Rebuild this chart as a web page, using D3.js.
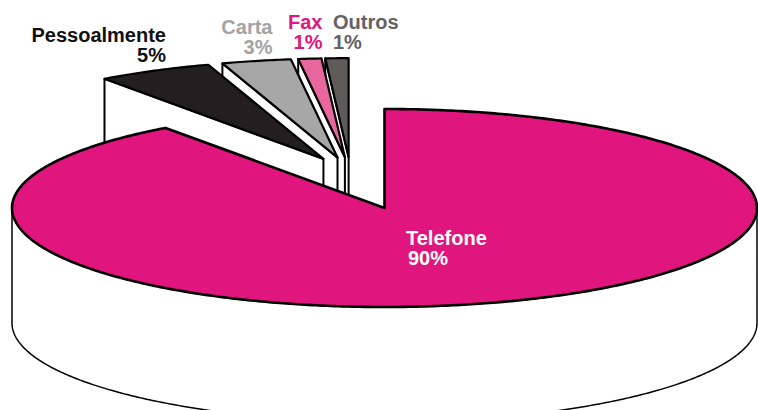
<!DOCTYPE html>
<html>
<head>
<meta charset="utf-8">
<script src="https://cdn.jsdelivr.net/npm/d3@7"></script>
<style>
  html, body { margin: 0; padding: 0; background: #ffffff; }
  svg { display: block; }
  text { font-family: "Liberation Sans", Arial, Helvetica, sans-serif; font-weight: bold; font-size: 20px; }
</style>
</head>
<body>
<svg id="chart" width="758" height="410"></svg>
<script>
// Contact channels and their shares (%)
const categories = ["Telefone", "Pessoalmente", "Carta", "Fax", "Outros"];
const shares = [90, 5, 3, 1, 1];
const percentLabels = ["90%", "5%", "3%", "1%", "1%"];
const pulledOut = [false, true, true, true, true];

// Styling
const sliceColors = ["#E0157D", "#231F20", "#A7A7A7", "#E8679E", "#5F5B5B"];
const labelColors = ["#FFFFFF", "#111111", "#A3A3A3", "#E0157D", "#646262"];

// Label anchors: [x, first baseline, second baseline, anchor, second-line x shift]
const labelLayout = [
  [406, 245, 265, "start", 2],
  [166, 41.5, 61.5, "end", 0],
  [272.5, 34, 54, "end", 0],
  [322.5, 29, 49, "end", 0],
  [333, 29, 49, "start", 0]
];

const svg = d3.select("#chart");

// 3D pie geometry
const cx = 384.5, cy = 208, rx = 372.5, ry = 99, depth = 115;
const explodeFrac = 0.16;      // radial pull of the detached wedges
const groupLift = [-34, -35];  // common shift of the detached group

const xs = d3.scaleLinear().domain([-1, 1]).range([cx - rx, cx + rx]);
const ys = d3.scaleLinear().domain([-1, 1]).range([cy - ry, cy + ry]);

const arcs = d3.pie().sort(null).value(d => d.value)
  .startAngle(0).endAngle(2 * Math.PI)(
    categories.map((c, i) => ({ name: c, value: shares[i], index: i }))
  );

// point on the rim (unit radius r) at angle a (0 = top, clockwise), shifted by offset and drop
function pt(a, r, off, drop) {
  return [xs(r * Math.sin(a)) + off[0], ys(-r * Math.cos(a)) + off[1] + (drop || 0)];
}
function arcPoints(a0, a1, off, drop) {
  const n = Math.max(2, Math.ceil(Math.abs(a1 - a0) / 0.01));
  return d3.range(n + 1).map(k => pt(a0 + (a1 - a0) * k / n, 1, off, drop));
}
const line = d3.line();

function offsetFor(d) {
  if (!pulledOut[d.data.index]) return [0, 0];
  const mid = (d.startAngle + d.endAngle) / 2;
  return [explodeFrac * rx * Math.sin(mid) + groupLift[0],
          -explodeFrac * ry * Math.cos(mid) + groupLift[1]];
}

function drawSlice(d) {
  const i = d.data.index;
  const off = offsetFor(d);
  const a0 = d.startAngle, a1 = d.endAngle;
  const g = svg.append("g").attr("class", "slice slice-" + i);
  const centre = pt(0, 0, off, 0);
  const centreLow = pt(0, 0, off, depth);
  const sw = i === 0 ? 2.6 : 2.2;

  // cut face along the start edge (faces the viewer when sin < 0)
  if (Math.sin(a0) < -1e-6) {
    const c0 = pt(a0, 1, off, 0), c0l = pt(a0, 1, off, depth);
    g.append("path").attr("d", line([centre, c0, c0l, centreLow]) + "Z")
      .attr("fill", "#fff").attr("stroke", "#000").attr("stroke-width", 2).attr("stroke-linejoin", "round");
  }
  // cut face along the end edge (faces the viewer when sin > 0)
  if (Math.sin(a1) > 1e-6) {
    const c1 = pt(a1, 1, off, 0), c1l = pt(a1, 1, off, depth);
    g.append("path").attr("d", line([centre, c1, c1l, centreLow]) + "Z")
      .attr("fill", "#fff").attr("stroke", "#000").attr("stroke-width", 2).attr("stroke-linejoin", "round");
  }
  // outer wall: only the front half of the rim is visible
  const w0 = Math.max(a0, Math.PI / 2), w1 = Math.min(a1, 3 * Math.PI / 2);
  if (w1 > w0) {
    const top = arcPoints(w0, w1, off, 0);
    const bottom = arcPoints(w1, w0, off, depth);
    g.append("path").attr("d", line(top.concat(bottom)) + "Z")
      .attr("fill", "#fff").attr("stroke", "#000").attr("stroke-width", 1.5).attr("stroke-linejoin", "round");
  }
  // top face
  const topFace = [centre].concat(arcPoints(a0, a1, off, 0));
  g.append("path").attr("d", line(topFace) + "Z")
    .attr("fill", sliceColors[i]).attr("stroke", "#000")
    .attr("stroke-width", sw).attr("stroke-linejoin", "round");
}

// back-most detached wedges first, main slice last
const order = arcs.filter(d => pulledOut[d.data.index]).reverse()
  .concat(arcs.filter(d => !pulledOut[d.data.index]));
order.forEach(drawSlice);

// labels
const labels = svg.append("g").attr("class", "labels");
arcs.forEach(d => {
  const i = d.data.index;
  const [lx, b1, b2, anchor, shift] = labelLayout[i];
  const t = labels.append("text").attr("fill", labelColors[i]).attr("text-anchor", anchor);
  t.append("tspan").attr("x", lx).attr("y", b1).text(categories[i]);
  t.append("tspan").attr("x", lx + shift).attr("y", b2).text(percentLabels[i]);
});
</script>
</body>
</html>
